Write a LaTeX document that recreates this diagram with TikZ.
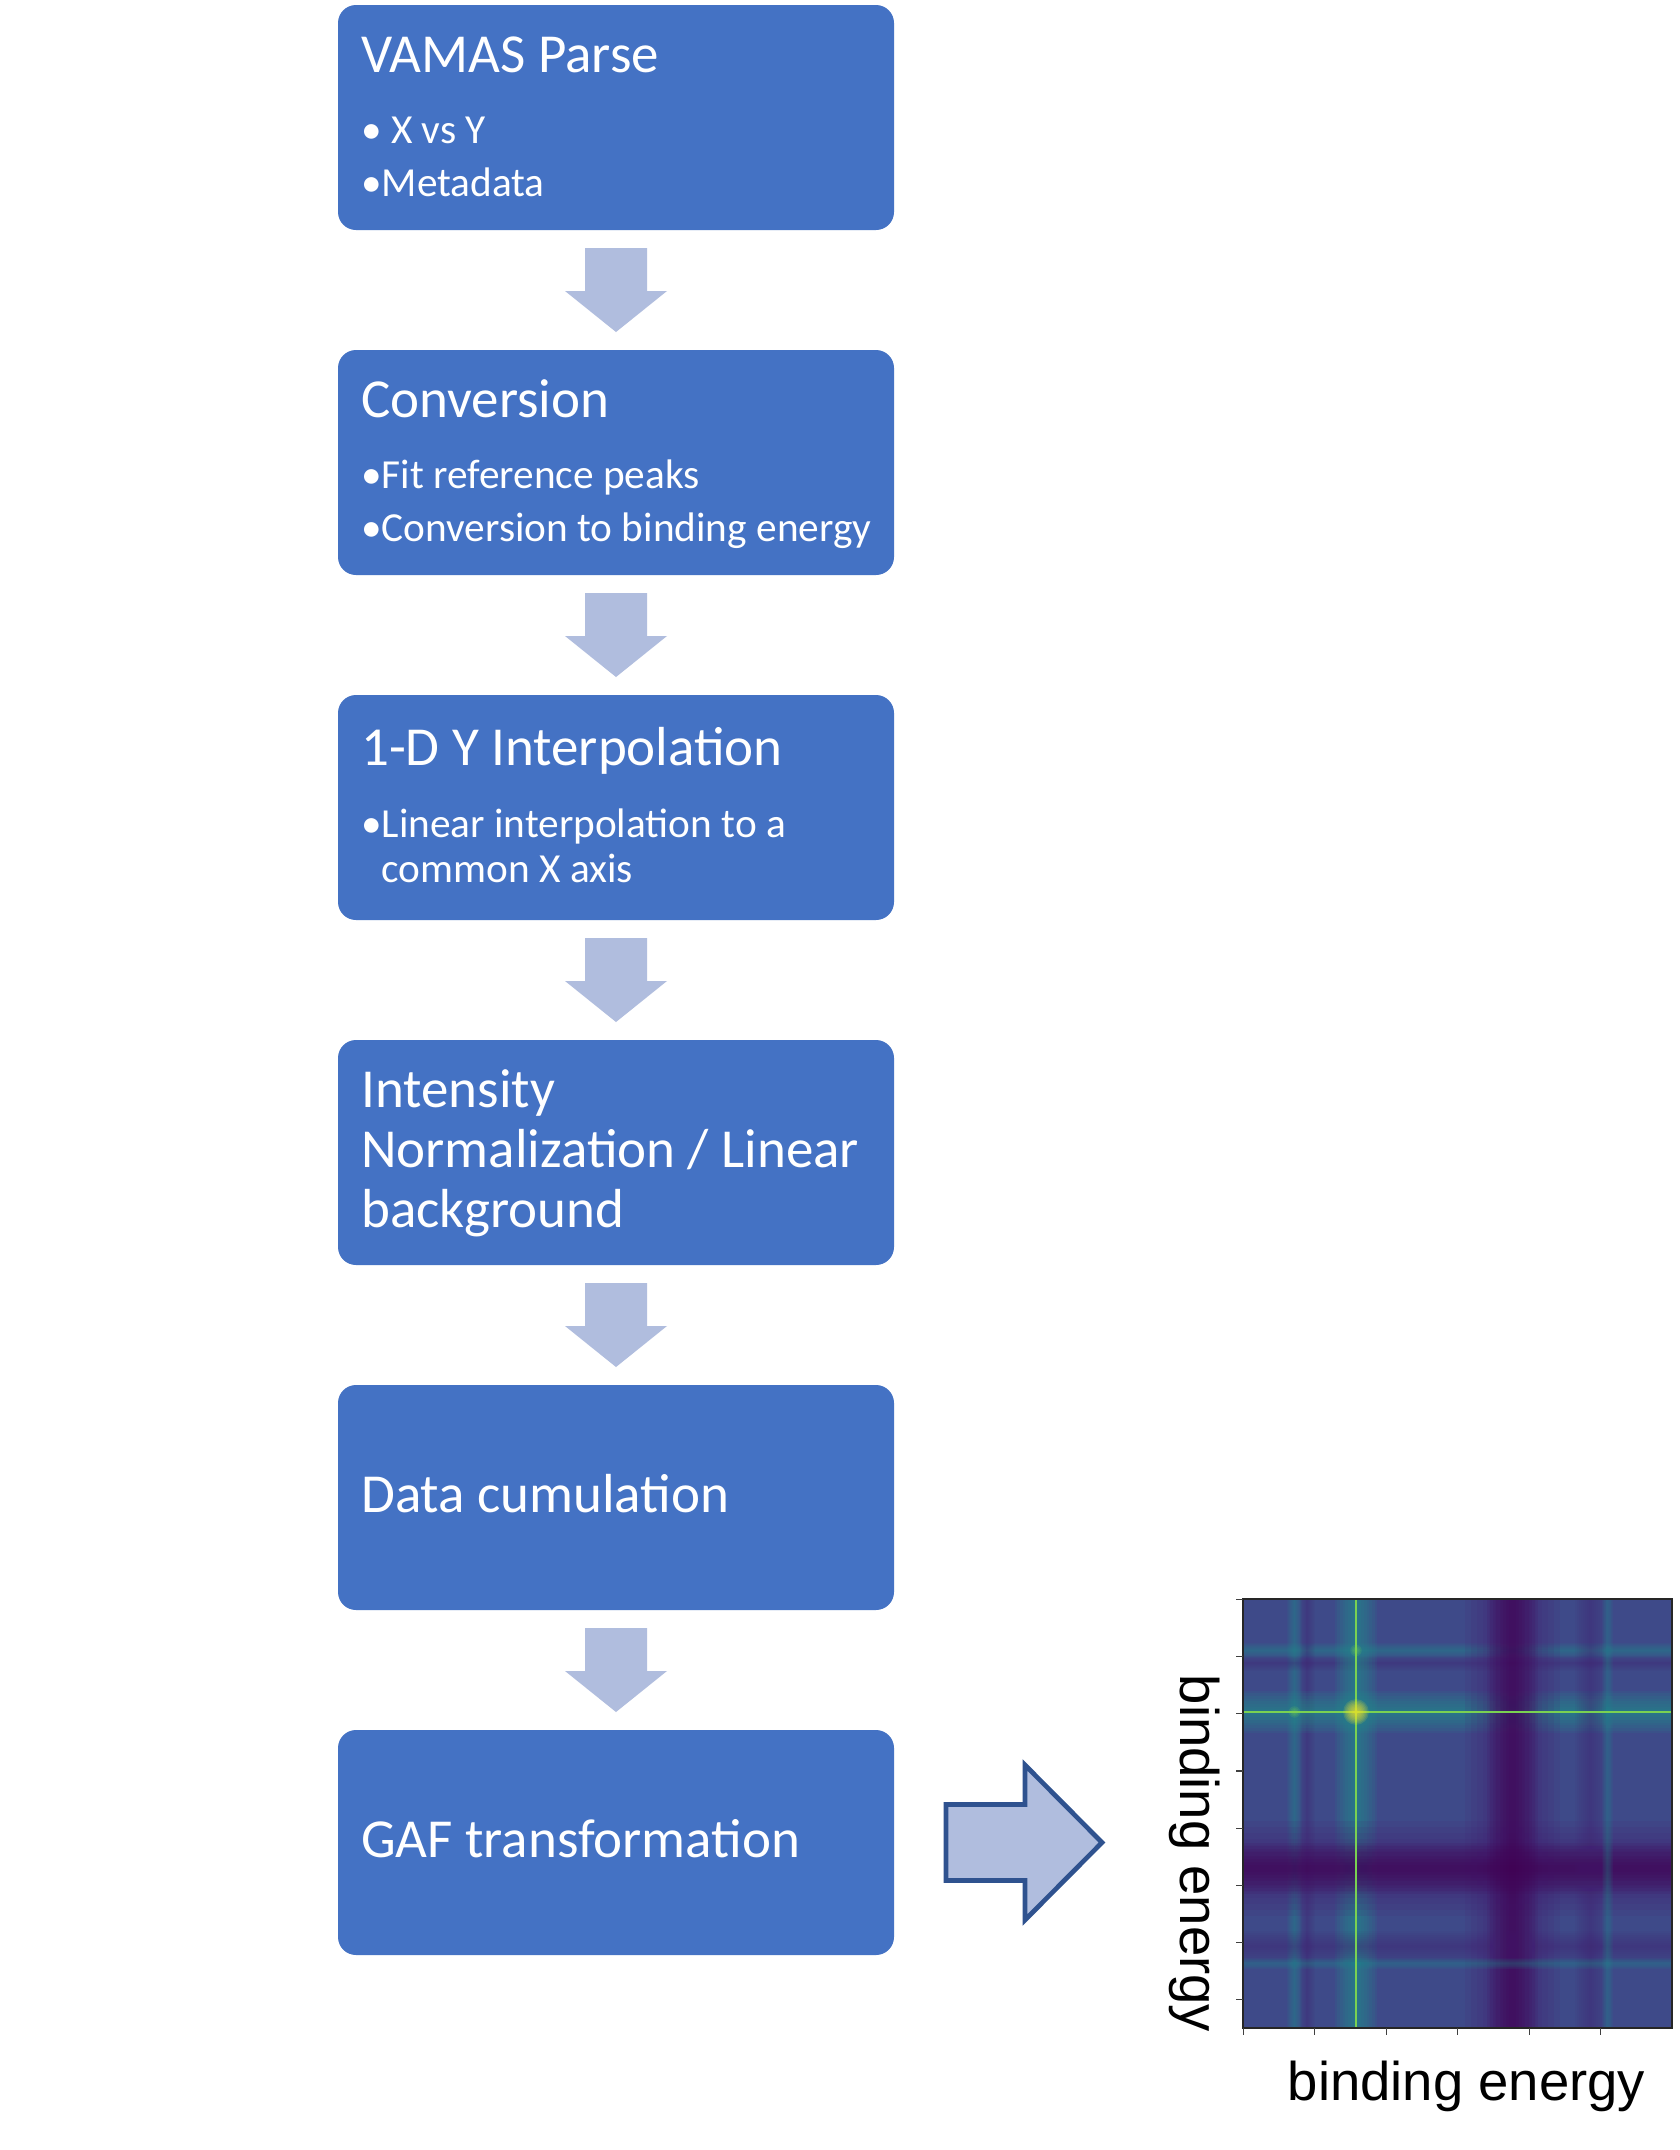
\documentclass[tikz,border=0pt]{standalone}
\usepackage{fontspec}
\setmainfont{Carlito}
\newfontfamily\plotfont{Liberation Sans}
\usetikzlibrary{positioning,calc}

\definecolor{cBox}{RGB}{68,114,196}
\definecolor{cArr}{RGB}{176,189,222}
\definecolor{cArrLine}{RGB}{47,82,143}
\definecolor{vBase}{RGB}{62,74,137}
\definecolor{vDark}{RGB}{68,1,84}
\definecolor{vPurple}{RGB}{72,33,115}
\definecolor{vTeal}{RGB}{33,145,140}
\definecolor{vGreen}{RGB}{122,209,81}
\definecolor{vYellow}{RGB}{253,231,37}

\tikzset{mystep/.style={
  shape=rectangle,
  rounded corners=18pt,
  fill=cBox,
  minimum width=556pt,
  minimum height=225pt,
  inner sep=0pt,
  outer sep=0pt,
  }
}
\tikzset{mytitle/.style={
  anchor=base west,
  inner sep=0pt,
  text=white,
  align=left,
  font=\fontsize{55}{60}\selectfont,
  }
}
\tikzset{mybullet/.style={
  anchor=base west,
  inner sep=0pt,
  text=white,
  align=left,
  font=\fontsize{41.3}{45}\selectfont,
  }
}
\tikzset{fatdown/.pic={
  \fill[cArr] (-31,0) -- (31,0) -- (31,43) -- (51,43) -- (0,84) -- (-51,43) -- (-31,43) -- cycle;
  }
}
\tikzset{gafframe/.style={
  shape=rectangle,
  minimum size=429pt,
  inner sep=0pt,
  outer sep=0pt,
  }
}
\tikzset{axlabel/.style={
  inner sep=0pt,
  text=black,
  font=\plotfont\fontsize{54.5}{60}\selectfont,
  }
}

\begin{document}
\begin{tikzpicture}[x=1pt, y=-1pt]
  \useasboundingbox[fill=white] (0,0) rectangle (1680,2150);

  \node[mystep] (s1) at (616,117.5) {};
  \node[mystep, below =120pt of s1] (s2) {};
  \node[mystep, below =120pt of s2] (s3) {};
  \node[mystep, below =120pt of s3] (s4) {};
  \node[mystep, below =120pt of s4] (s5) {};
  \node[mystep, below =120pt of s5] (s6) {};

  \node[mytitle] (t1) at ($(s1.north west)+(23,67)$) {VAMAS Parse};
  \node[mybullet] (t1a) at ($(s1.north west)+(23,138)$) {• X vs Y};
  \node[mybullet] (t1b) at ($(s1.north west)+(23,191)$) {•Metadata};

  \node[mytitle] (t2) at ($(s2.north west)+(23,67)$) {Conversion};
  \node[mybullet] (t2a) at ($(s2.north west)+(23,138)$) {•Fit reference peaks};
  \node[mybullet] (t2b) at ($(s2.north west)+(23,191)$) {•Conversion to binding energy};

  \node[mytitle] (t3) at ($(s3.north west)+(23,70)$) {1-D Y Interpolation};
  \node[mybullet] (t3a) at ($(s3.north west)+(23,187)$) {•Linear interpolation to a\\\hphantom{•}common X axis};

  \node[mytitle] (t4) at ($(s4.north west)+(23,187)$) {Intensity\\Normalization / Linear\\background};

  \node[mytitle] (t5) at ($(s5.north west)+(23,127)$) {Data cumulation};

  \node[mytitle] (t6) at ($(s6.north west)+(23,127)$) {GAF transformation};

  \pic at ($(s1.south)+(0,18)$) {fatdown};
  \pic at ($(s2.south)+(0,18)$) {fatdown};
  \pic at ($(s3.south)+(0,18)$) {fatdown};
  \pic at ($(s4.south)+(0,18)$) {fatdown};
  \pic at ($(s5.south)+(0,18)$) {fatdown};

  \coordinate (ra) at ($(s6.east)+(52,0)$);
  \draw[cArrLine, fill=cArr, line width=4.7pt, line join=miter] (ra) ++(0,-38) -- ++(79,0) -- ++(0,-39.5) -- ++(77,77.5) -- ++(-77,77.5) -- ++(0,-39.5) -- ++(-79,0) -- cycle;

  \node[gafframe] (gaf) at (1457.5,1813.5) {};
  \begin{scope}[shift={(gaf.north west)}, x=0.715pt, y=-0.715pt]
    \begin{scope}
      \clip (0,0) rectangle (600,600);
      \fill[vBase] (0,0) rectangle (600,600);
      \foreach \c/\w/\col/\op in {72/10/vTeal/0.07, 90/10/vPurple/0.05, 158/30/vTeal/0.11, 377/66/vPurple/0.12, 377/36/vDark/0.11, 486/22/vPurple/0.06, 510/8/vTeal/0.05}{
        \foreach \k in {1,...,8}{
          \fill[\col, fill opacity=\op] (\c-\w*\k/8,0) rectangle (\c+\w*\k/8,600);
          \fill[\col, fill opacity=\op] (0,\c-\w*\k/8) rectangle (600,\c+\w*\k/8);
        }
      }
      \draw[vGreen, line width=2.6pt] (158,0) -- (158,600);
      \draw[vGreen, line width=2.6pt] (0,158) -- (600,158);
      \foreach \r in {2,4,...,8}{
        \fill[vGreen, fill opacity=0.15] (72,158) circle (\r);
        \fill[vGreen, fill opacity=0.15] (158,72) circle (\r);
      }
      \foreach \r in {2,4,...,18}{
        \fill[vYellow, fill opacity=0.14] (158,158) circle (\r);
      }
    \end{scope}
    \draw[black!85, line width=1.3pt] (0,0) rectangle (600,600);
    \foreach \t in {0,80,...,560}{
      \draw[black!75, line width=1.2pt] (0,\t+0.5) -- ++(-7pt,0);
    }
    \foreach \t in {0,100,...,500}{
      \draw[black!75, line width=1.2pt] (\t+0.5,600) -- ++(0,-7pt);
    }
  \end{scope}

  \node[axlabel, anchor=base] (xlab) at ($(gaf.south)+(9,72)$) {binding energy};
  \node[axlabel, anchor=base, rotate=-90] (ylab) at ($(gaf.west)+(-63,40)$) {binding energy};
\end{tikzpicture}
\end{document}
